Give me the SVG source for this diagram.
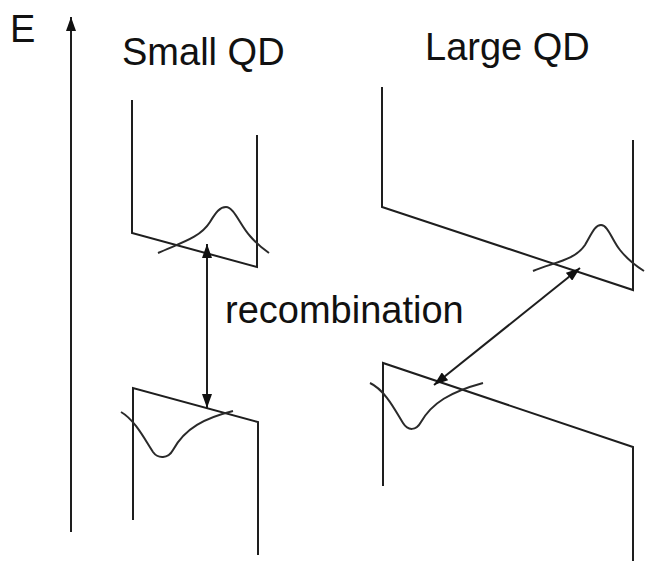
<svg xmlns="http://www.w3.org/2000/svg" width="645" height="561" viewBox="0 0 645 561">
<style>
.ln{fill:none;stroke:#1e1e1e;stroke-width:2;stroke-linejoin:miter}
.wf{fill:none;stroke:#2a2a2a;stroke-width:2}
.t{font-family:"Liberation Sans",Arial,sans-serif;font-size:38px;fill:#111}
</style>
<defs>
<marker id="ah" viewBox="0 0 14 10" refX="14" refY="5" markerWidth="14" markerHeight="10" markerUnits="userSpaceOnUse" orient="auto-start-reverse">
<path d="M0,0 L14,5 L0,10 Z" fill="#111"/>
</marker>
</defs>
<rect width="645" height="561" fill="#fff"/>
<g id="energy-axis">
<line class="ln" x1="71" y1="532" x2="71" y2="17" marker-end="url(#ah)"/>
<text class="t" x="10" y="42">E</text>
</g>
<g id="small-qd">
<text class="t" x="122" y="65">Small QD</text>
<g id="small-qd-conduction">
<path class="ln" d="M132,100 L132,233 L257,267 L257,135"/>
<path class="wf" d="M158,253 C180,243 200,238 210,222 C216,212 220,207 226,207 C234,207 240,225 250,236 C256,243 262,248 269,253"/>
</g>
<g id="small-qd-valence">
<path class="ln" d="M133,520 L133,388 L258,422 L258,555"/>
<path class="wf" d="M121,412 C135,420 145,440 153,452 C158,459 168,459 173,450 C185,428 205,418 233,411"/>
</g>
</g>
<g id="large-qd">
<text class="t" x="425" y="60">Large QD</text>
<g id="large-qd-conduction">
<path class="ln" d="M382,87 L382,207 L633,290 L633,140"/>
<path class="wf" d="M533,271 C555,262 575,260 585,245 C592,233 595,225 601,225 C608,225 612,240 620,250 C628,260 636,266 644,271"/>
</g>
<g id="large-qd-valence">
<path class="ln" d="M383,486 L383,363 L633,447 L633,561"/>
<path class="wf" d="M370,383 C385,390 395,410 403,423 C408,431 416,431 421,422 C432,403 450,392 483,383"/>
</g>
</g>
<g id="connectors">
<line class="ln" x1="207" y1="244" x2="207" y2="408" marker-start="url(#ah)" marker-end="url(#ah)"/>
<line class="ln" x1="434" y1="385" x2="580" y2="268" marker-start="url(#ah)" marker-end="url(#ah)"/>
</g>
<text class="t" x="225" y="323">recombination</text>
</svg>
